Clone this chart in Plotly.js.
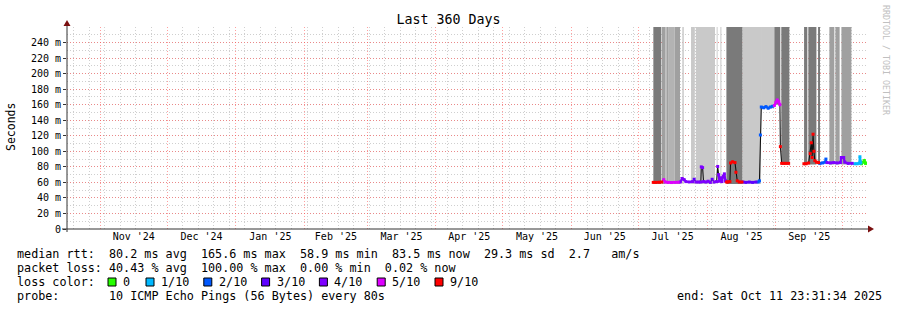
<!DOCTYPE html>
<html><head><meta charset="utf-8">
<script src="https://cdn.plot.ly/plotly-3.0.1.min.js"></script>
<style>html,body{margin:0;padding:0;background:#fff}#chart{width:897px;height:310px}</style>
</head><body><div id="chart"></div>
<script>
// ---- median RTT samples (ms) and loss (tenths) ----
const sampleTimes = [
'2025-07-07 19:00','2025-07-09 00:00','2025-07-10 12:00','2025-07-11 14:00','2025-07-12 12:00',
'2025-07-13 05:00','2025-07-14 12:00','2025-07-16 00:00','2025-07-17 12:00','2025-07-19 00:00',
'2025-07-20 00:00','2025-07-20 19:00','2025-07-21 17:00','2025-07-22 12:00','2025-07-24 00:00',
'2025-07-25 12:00','2025-07-26 05:00','2025-07-27 00:00','2025-07-28 05:00','2025-07-29 05:00',
'2025-07-29 10:00','2025-07-30 00:00','2025-07-30 10:00','2025-07-31 12:00','2025-08-01 12:00',
'2025-08-02 12:00','2025-08-03 07:00','2025-08-04 05:00','2025-08-05 07:00','2025-08-05 19:00',
'2025-08-06 05:00','2025-08-06 14:00','2025-08-07 05:00','2025-08-07 17:00','2025-08-08 07:00',
'2025-08-08 19:00','2025-08-09 07:00','2025-08-09 19:00','2025-08-10 07:00','2025-08-11 07:00',
'2025-08-11 14:00','2025-08-12 12:00','2025-08-13 14:00','2025-08-14 00:00','2025-08-14 14:00',
'2025-08-15 12:00','2025-08-16 17:00','2025-08-17 05:00','2025-08-18 12:00','2025-08-20 00:00',
'2025-08-21 12:00','2025-08-23 00:00','2025-08-24 00:00','2025-08-24 14:00','2025-08-25 00:00',
'2025-08-25 10:00','2025-08-26 12:00','2025-08-27 12:00','2025-08-28 12:00','2025-08-29 12:00',
'2025-08-30 12:00','2025-08-31 07:00','2025-09-01 00:00','2025-09-01 14:00','2025-09-02 07:00',
'2025-09-02 19:00','2025-09-03 00:00','2025-09-03 14:00','2025-09-04 12:00','2025-09-05 12:00',
'2025-09-06 17:00','2025-09-10 00:00','2025-09-13 14:00','2025-09-14 14:00','2025-09-15 17:00',
'2025-09-16 10:00','2025-09-16 22:00','2025-09-17 07:00','2025-09-17 17:00','2025-09-18 02:00',
'2025-09-18 12:00','2025-09-19 07:00','2025-09-20 05:00','2025-09-20 19:00','2025-09-22 00:00',
'2025-09-23 05:00','2025-09-23 12:00','2025-09-24 00:00','2025-09-25 12:00','2025-09-27 00:00',
'2025-09-28 12:00','2025-09-30 00:00','2025-09-30 10:00','2025-10-01 12:00','2025-10-02 00:00',
'2025-10-03 12:00','2025-10-05 07:00','2025-10-05 22:00','2025-10-06 10:00','2025-10-07 12:00',
'2025-10-08 12:00','2025-10-08 19:00','2025-10-09 05:00','2025-10-09 12:00','2025-10-10 07:00',
'2025-10-10 19:00','2025-10-11 07:00','2025-10-11 22:00'
];
const medianMs = [
60.0,60.0,60.2,60.5,63.5,
60.5,60.0,59.8,60.0,60.2,
60.5,65.0,63.5,61.0,60.5,
61.0,64.0,60.5,60.5,60.5,
80.0,79.0,61.0,60.5,61.5,
60.0,64.0,60.5,61.0,80.5,
70.0,61.5,66.0,61.0,68.0,
71.0,62.0,60.5,60.5,61.0,
85.0,86.5,85.5,73.0,62.0,
60.5,60.5,60.5,60.0,60.5,
60.0,60.5,60.5,62.0,121.0,
157.0,156.0,157.5,155.5,157.0,
158.0,159.0,163.0,166.0,164.0,
160.0,106.0,84.5,84.5,84.5,
84.5,null,84.0,84.0,85.0,
97.0,111.0,92.0,122.0,100.0,
88.0,86.0,85.5,84.5,85.0,
86.0,90.0,85.5,85.0,85.5,
85.0,85.5,92.0,92.0,86.0,
84.5,84.5,null,84.0,84.0,
84.5,93.0,85.0,84.0,86.0,
88.0,84.5,85.0
];
const lossTenths = [
9,9,9,9,5,
5,5,5,5,5,
4,4,4,4,4,
4,3,4,4,4,
4,4,4,4,4,
4,3,4,4,4,
4,4,4,4,4,
4,4,9,9,9,
9,9,9,9,9,
9,9,3,3,3,
3,3,2,2,2,
2,2,2,2,2,
2,5,5,5,5,
5,9,9,9,9,
9,null,9,9,9,
9,9,9,9,9,
9,9,9,2,2,
2,2,4,4,4,
4,4,4,4,4,
4,4,null,1,1,
1,1,1,0,0,
0,0,0
];

// ---- smoke (ping spread) bands ----
const smokeStart = ['2025-07-07 20:00','2025-07-11 16:00','2025-07-13 16:00','2025-07-14 17:00','2025-07-17 10:00',
'2025-07-20 21:00','2025-07-24 19:00','2025-07-26 23:00','2025-08-05 08:00','2025-08-07 00:00',
'2025-08-09 17:00','2025-08-16 21:00','2025-08-25 07:00','2025-08-31 07:00','2025-09-03 10:00',
'2025-09-13 16:00','2025-09-15 14:00','2025-09-19 23:00','2025-09-25 01:00','2025-09-27 18:00','2025-09-30 11:00'];
const smokeEnd = ['2025-07-11 10:00','2025-07-13 09:00','2025-07-14 17:00','2025-07-17 10:00','2025-07-19 20:00',
'2025-07-21 13:00','2025-07-26 12:00','2025-08-04 14:00','2025-08-05 18:00','2025-08-07 11:00',
'2025-08-16 21:00','2025-08-25 07:00','2025-08-31 07:00','2025-09-02 23:00','2025-09-07 01:00',
'2025-09-15 03:00','2025-09-19 05:00','2025-09-20 20:00','2025-09-27 07:00','2025-09-29 16:00','2025-10-04 23:00'];
const smokeShade = [4,3,3,2,3, 1,1,1,1,1, 4,1,1,4,4, 4,4,4,3,3,3];
const smokeLowMs = [58,58,58,58,58, 58,58,58,58,58, 58,58,155,160,83, 83,83,83,83,83,83];
const smokeHighMs = [300,300,300,300,300, 300,300,300,300,300, 300,300,300,300,300, 300,300,300,300,300,300];

// ---- axes / legend text ----
const yTickVals = [0,20,40,60,80,100,120,140,160,180,200,220,240];
const yTickText = ['0','20 m','40 m','60 m','80 m','100 m','120 m','140 m','160 m','180 m','200 m','220 m','240 m'];
const lossLevels = [0,1,2,3,4,5,9];
const lossLabels = ['0','1/10','2/10','3/10','4/10','5/10','9/10'];
const lossColors = ['#26ff00','#00b8ff','#0059ff','#5e00ff','#7e00ff','#dd00ff','#ff0000'];
const rttStats = ['80.2 ms avg','165.6 ms max','58.9 ms min','83.5 ms now','29.3 ms sd','2.7   am/s'];
const lossStats = ['40.43 % avg','100.00 % max','0.00 % min','0.02 % now'];
const probeText = '10 ICMP Echo Pings (56 Bytes) every 80s';
const endText = 'end: Sat Oct 11 23:31:34 2025';
const titleText = 'Last 360 Days';
const rangeStart = '2024-10-16 23:31:34', rangeEnd = '2025-10-11 23:31:34';

// ---- helpers ----
const toMs = s => Date.parse(s.replace(' ','T') + (s.length === 16 ? ':00Z' : 'Z'));
const ML = 67, MR = 30, MT = 27, MB = 81, W = 897, H = 310;
const PW = W - ML - MR, PH = H - MT - MB;
const pxX = x => (x - ML) / PW;
const pxY = y => (H - MB - y) / PH;
const nb = s => s.replace(/ /g, '\u00a0');
const MONO = 'DejaVu Sans Mono';

const traces = [];
const shadeColors = {1:'#c9c9c9', 2:'#b3b3b3', 3:'#a0a0a0', 4:'#7a7a7a'};
[1,2,3,4].forEach(sh => {
  const xs=[], ws=[], bs=[], ys=[];
  smokeShade.forEach((v,i) => {
    if (v !== sh) return;
    const t0 = toMs(smokeStart[i]), t1 = toMs(smokeEnd[i]);
    xs.push((t0+t1)/2); ws.push(t1-t0); bs.push(smokeLowMs[i]); ys.push(smokeHighMs[i]-smokeLowMs[i]);
  });
  traces.push({type:'bar', x:xs, y:ys, base:bs, width:ws, marker:{color:shadeColors[sh], line:{width:0}},
    hoverinfo:'skip', showlegend:false});
});

const tMs = sampleTimes.map(toMs);
traces.push({type:'scatter', mode:'lines', x:tMs, y:medianMs, line:{color:'#111', width:1.1},
  connectgaps:false, hoverinfo:'skip', showlegend:false});

lossLevels.forEach((lv, k) => {
  const xs=[], ys=[];
  for (let i=0;i<tMs.length;i++){
    if (lossTenths[i] !== lv || medianMs[i] === null) continue;
    xs.push(tMs[i]); ys.push(medianMs[i]);
    const j = i+1;
    const cont = j < tMs.length && lossTenths[j] === lv && medianMs[j] !== null && Math.abs(medianMs[j]-medianMs[i]) < 10;
    if (!cont) { xs.push(tMs[i]+1); ys.push(null); }
  }
  traces.push({type:'scatter', mode:'lines+markers', x:xs, y:ys, line:{color:lossColors[k], width:2.2},
    marker:{color:lossColors[k], size:3, symbol:'square'}, connectgaps:false, hoverinfo:'skip', showlegend:false});
});

// ---- annotations ----
const ann = [];
const addText = (text, x, y, opts={}) => ann.push(Object.assign({
  text: nb(text), xref:'paper', yref:'paper', x:pxX(x), y:pxY(y), showarrow:false,
  xanchor:'left', yanchor:'middle', borderpad:0, font:{family:MONO, size:11.75, color:'#000'}
}, opts));

addText('median rtt:  ' + rttStats.join('  '), 16, 254);
addText('packet loss: ' + lossStats.join('  '), 16, 268);
addText('loss color:', 16, 282);
addText('probe:       ' + probeText, 16, 296);
addText(endText, 883, 296, {xanchor:'right'});
ann.push({text:'Seconds', xref:'paper', yref:'paper', x:pxX(11), y:pxY(127), showarrow:false, textangle:-90,
  xanchor:'center', yanchor:'middle', font:{family:MONO, size:11.5, color:'#000'}});
ann.push({text:'RRDTOOL / TOBI OETIKER', xref:'paper', yref:'paper', x:pxX(886), y:pxY(60), showarrow:false, textangle:90,
  xanchor:'center', yanchor:'middle', font:{family:MONO, size:8.3, color:'#c0c0c0'}});

const shapes = [];
lossLabels.forEach((lab, k) => {
  const bx = 108 + (k > 0 ? 38 + (k-1)*57.8 : 0);
  shapes.push({type:'rect', xref:'paper', yref:'paper', x0:pxX(bx), x1:pxX(bx+8), y0:pxY(286), y1:pxY(278),
    fillcolor:lossColors[k], line:{color:'#000', width:1}});
  addText(lab, bx + 14, 282);
});
// axis lines and arrows
shapes.push({type:'line', xref:'paper', yref:'paper', x0:0, x1:0, y0:pxY(232), y1:pxY(24), line:{color:'#333', width:1}});
shapes.push({type:'line', xref:'paper', yref:'paper', x0:pxX(62), x1:pxX(870), y0:0, y1:0, line:{color:'#333', width:1}});
shapes.push({type:'path', xref:'paper', yref:'paper', xsizemode:'pixel', ysizemode:'pixel', xanchor:0, yanchor:1,
  path:'M -3.5,1 L 3.5,1 L 0,7 Z', fillcolor:'#7a0f0f', line:{width:0}});
shapes.push({type:'path', xref:'paper', yref:'paper', xsizemode:'pixel', ysizemode:'pixel', xanchor:1, yanchor:0,
  path:'M 1,-3.5 L 1,3.5 L 7,0 Z', fillcolor:'#7a0f0f', line:{width:0}});

const layout = {
  width:W, height:H, margin:{l:ML, r:MR, t:MT, b:MB, pad:0},
  paper_bgcolor:'#fff', plot_bgcolor:'#fff', barmode:'overlay', showlegend:false,
  title:{text:titleText, x:0.5, xref:'container', xanchor:'center', y:1-19/H, yref:'container', yanchor:'middle',
    font:{family:MONO, size:13.3, color:'#000'}},
  xaxis:{type:'date', range:[rangeStart, rangeEnd], dtick:'M1', tick0:'2024-11-01', ticklabelmode:'period',
    tickformat:"%b '%y", tickfont:{family:MONO, size:10, color:'#000'}, ticks:'', showline:false, zeroline:false,
    showgrid:true, gridcolor:'rgba(255,80,80,0.55)', griddash:'1px,2px', gridwidth:1,
    minor:{dtick:7*86400000, tick0:'2024-10-20', showgrid:true, gridcolor:'#cfcfcf', griddash:'1px,2px', gridwidth:1, ticks:''},
    fixedrange:true},
  yaxis:{range:[0,260], tickvals:yTickVals, ticktext:yTickText, tickfont:{family:MONO, size:10, color:'#000'},
    ticks:'outside', ticklen:3, tickcolor:'#333', showline:false, zeroline:false,
    showgrid:true, gridcolor:'rgba(255,80,80,0.55)', griddash:'1px,2px', gridwidth:1,
    minor:{dtick:10, tick0:0, showgrid:true, gridcolor:'#cfcfcf', griddash:'1px,2px', gridwidth:1, ticks:''},
    fixedrange:true},
  annotations:ann, shapes:shapes
};
Plotly.newPlot('chart', traces, layout, {staticPlot:true, displayModeBar:false});
</script></body></html>
